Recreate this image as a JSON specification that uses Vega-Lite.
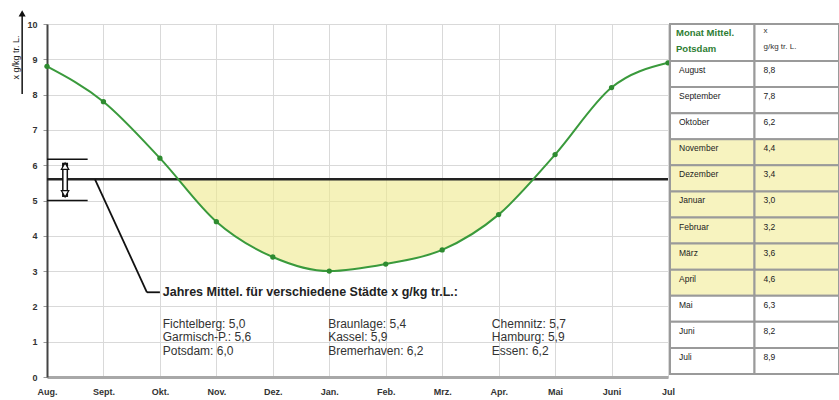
{
  "$schema": "https://vega.github.io/schema/vega-lite/v6.json",
  "padding": {"left": 10, "top": 9, "right": 0, "bottom": 0},
  "background": "white",
  "config": {"font": "Liberation Sans", "view": {"stroke": null}},
  "datasets": {
    "potsdam": [
      {"i": 0, "Monat": "Aug.", "x": 8.8},
      {"i": 1, "Monat": "Sept.", "x": 7.8},
      {"i": 2, "Monat": "Okt.", "x": 6.2},
      {"i": 3, "Monat": "Nov.", "x": 4.4},
      {"i": 4, "Monat": "Dez.", "x": 3.4},
      {"i": 5, "Monat": "Jan.", "x": 3.0},
      {"i": 6, "Monat": "Feb.", "x": 3.2},
      {"i": 7, "Monat": "Mrz.", "x": 3.6},
      {"i": 8, "Monat": "Apr.", "x": 4.6},
      {"i": 9, "Monat": "Mai", "x": 6.3},
      {"i": 10, "Monat": "Juni", "x": 8.2},
      {"i": 11, "Monat": "Jul", "x": 8.9}
    ],
    "shade": [
      {"i": 2.32, "x": 5.6},
      {"i": 3, "x": 4.4},
      {"i": 4, "x": 3.4},
      {"i": 5, "x": 3.0},
      {"i": 6, "x": 3.2},
      {"i": 7, "x": 3.6},
      {"i": 8, "x": 4.6},
      {"i": 8.62, "x": 5.6}
    ],
    "one": [{}],
    "header": [
      {"col": "A", "t": "Monat Mittel.\nPotsdam"},
      {"col": "B", "t": "x\ng/kg tr. L."}
    ],
    "table": [
      {"Monat": "August", "wert": "8,8", "hl": false},
      {"Monat": "September", "wert": "7,8", "hl": false},
      {"Monat": "Oktober", "wert": "6,2", "hl": false},
      {"Monat": "November", "wert": "4,4", "hl": true},
      {"Monat": "Dezember", "wert": "3,4", "hl": true},
      {"Monat": "Januar", "wert": "3,0", "hl": true},
      {"Monat": "Februar", "wert": "3,2", "hl": true},
      {"Monat": "März", "wert": "3,6", "hl": true},
      {"Monat": "April", "wert": "4,6", "hl": true},
      {"Monat": "Mai", "wert": "6,3", "hl": false},
      {"Monat": "Juni", "wert": "8,2", "hl": false},
      {"Monat": "Juli", "wert": "8,9", "hl": false}
    ]
  },
  "bounds": "flush",
  "spacing": 2,
  "hconcat": [
    {
      "width": 621,
      "height": 353,
      "view": {"stroke": "#c8c8c8"},
      "data": {"name": "one"},
      "resolve": {"axis": {"x": "independent", "y": "independent"}},
      "layer": [
        {
          "data": {"name": "shade"},
          "mark": {"type": "area", "interpolate": "monotone", "color": "#eeea8c", "opacity": 0.6},
          "encoding": {
            "x": {"field": "i", "type": "quantitative", "title": null,
              "scale": {"domain": [0, 11], "nice": false, "zero": false},
              "axis": {"values": [0,1,2,3,4,5,6,7,8,9,10,11],
                "labelExpr": "['Aug.','Sept.','Okt.','Nov.','Dez.','Jan.','Feb.','Mrz.','Apr.','Mai','Juni','Jul'][datum.value]",
                "labelFlush": false, "labelOverlap": false,
                "grid": true, "gridColor": "#d9d9d9", "domainColor": "#a8a8a8", "domainWidth": 3,
                "tickSize": 0, "labelPadding": 10, "labelFontSize": 9, "labelFontWeight": "bold", "labelColor": "#333"}},
            "y": {"field": "x", "type": "quantitative", "title": "x g/kg tr. L.",
              "scale": {"domain": [0, 10], "nice": false},
              "axis": {"values": [0,1,2,3,4,5,6,7,8,9,10], "labelOverlap": false, "labelFlush": false,
                "titleAngle": -90, "titleX": -32, "titleY": 33, "titleAlign": "center", "titleBaseline": "middle",
                "titleFontSize": 9, "titleFontWeight": "normal", "titleColor": "#222",
                "grid": true, "gridColor": "#d9d9d9", "domainColor": "#444", "domainWidth": 2,
                "tickSize": 4, "tickColor": "#999", "labelPadding": 6, "labelFontSize": 9,
                "labelFontWeight": "bold", "labelColor": "#333"}},
            "y2": {"datum": 5.6}
          }
        },
        {
          "mark": {"type": "rule", "color": "#222", "strokeWidth": 2.5},
          "encoding": {"y": {"datum": 5.6, "type": "quantitative", "axis": null}}
        },
        {
          "mark": {"type": "rule", "color": "#111", "strokeWidth": 1.5},
          "encoding": {"x": {"datum": 0, "type": "quantitative", "axis": null}, "x2": {"datum": 0.72}, "y": {"datum": 6.17, "type": "quantitative", "axis": null}}
        },
        {
          "mark": {"type": "rule", "color": "#111", "strokeWidth": 1.5},
          "encoding": {"x": {"datum": 0, "type": "quantitative", "axis": null}, "x2": {"datum": 0.72}, "y": {"datum": 5.0, "type": "quantitative", "axis": null}}
        },
        {
          "mark": {"type": "rule", "color": "#111", "strokeWidth": 6},
          "encoding": {"x": {"datum": 0.32, "type": "quantitative", "axis": null}, "y": {"datum": 5.1, "type": "quantitative", "axis": null}, "y2": {"datum": 6.07}}
        },
        {
          "mark": {"type": "rule", "color": "white", "strokeWidth": 3},
          "encoding": {"x": {"datum": 0.32, "type": "quantitative", "axis": null}, "y": {"datum": 5.2, "type": "quantitative", "axis": null}, "y2": {"datum": 5.97}}
        },
        {
          "mark": {"type": "point", "shape": "triangle-up", "filled": true, "fill": "white", "stroke": "#111", "strokeWidth": 1.2, "size": 55, "opacity": 1},
          "encoding": {"x": {"datum": 0.32, "type": "quantitative", "axis": null}, "y": {"datum": 5.97, "type": "quantitative", "axis": null}}
        },
        {
          "mark": {"type": "point", "shape": "triangle-down", "filled": true, "fill": "white", "stroke": "#111", "strokeWidth": 1.2, "size": 55, "opacity": 1},
          "encoding": {"x": {"datum": 0.32, "type": "quantitative", "axis": null}, "y": {"datum": 5.19, "type": "quantitative", "axis": null}}
        },
        {
          "mark": {"type": "rule", "color": "#111", "strokeWidth": 1.8},
          "encoding": {"x": {"datum": 0.85, "type": "quantitative", "axis": null}, "y": {"datum": 5.6, "type": "quantitative", "axis": null}, "x2": {"datum": 1.77}, "y2": {"datum": 2.4}}
        },
        {
          "mark": {"type": "rule", "color": "#111", "strokeWidth": 1.8},
          "encoding": {"x": {"datum": 1.77, "type": "quantitative", "axis": null}, "y": {"datum": 2.4, "type": "quantitative", "axis": null}, "x2": {"datum": 2.0}}
        },
        {
          "mark": {"type": "rule", "color": "#111", "strokeWidth": 1.5},
          "encoding": {"x": {"datum": -0.44, "type": "quantitative", "axis": null}, "y": {"datum": 8.02, "type": "quantitative", "axis": null}, "y2": {"datum": 10.25}}
        },
        {
          "mark": {"type": "point", "shape": "triangle-up", "filled": true, "color": "#111", "size": 50, "opacity": 1},
          "encoding": {"x": {"datum": -0.44, "type": "quantitative", "axis": null}, "y": {"datum": 10.3, "type": "quantitative", "axis": null}}
        },
        {
          "mark": {"type": "text", "text": "Jahres Mittel. für verschiedene Städte x g/kg tr.L.:", "align": "left", "baseline": "middle", "fontSize": 12.5, "fontWeight": "bold", "color": "#222"},
          "encoding": {"x": {"datum": 2.05, "type": "quantitative", "axis": null}, "y": {"datum": 2.4, "type": "quantitative", "axis": null}}
        },
        {
          "mark": {"type": "text", "text": "Fichtelberg: 5,0\nGarmisch-P.: 5,6\nPotsdam: 6,0", "lineBreak": "\n", "lineHeight": 13.5, "align": "left", "baseline": "top", "fontSize": 12, "color": "#333"},
          "encoding": {"x": {"datum": 2.05, "type": "quantitative", "axis": null}, "y": {"datum": 1.65, "type": "quantitative", "axis": null}}
        },
        {
          "mark": {"type": "text", "text": "Braunlage: 5,4\nKassel: 5,9\nBremerhaven: 6,2", "lineBreak": "\n", "lineHeight": 13.5, "align": "left", "baseline": "top", "fontSize": 12, "color": "#333"},
          "encoding": {"x": {"datum": 4.98, "type": "quantitative", "axis": null}, "y": {"datum": 1.65, "type": "quantitative", "axis": null}}
        },
        {
          "mark": {"type": "text", "text": "Chemnitz: 5,7\nHamburg: 5,9\nEssen: 6,2", "lineBreak": "\n", "lineHeight": 13.5, "align": "left", "baseline": "top", "fontSize": 12, "color": "#333"},
          "encoding": {"x": {"datum": 7.88, "type": "quantitative", "axis": null}, "y": {"datum": 1.65, "type": "quantitative", "axis": null}}
        },
        {
          "data": {"name": "potsdam"},
          "mark": {"type": "line", "interpolate": "monotone", "color": "#3a9a3c", "strokeWidth": 2},
          "encoding": {
            "x": {"field": "i", "type": "quantitative", "axis": null},
            "y": {"field": "x", "type": "quantitative", "axis": null}
          }
        },
        {
          "data": {"name": "potsdam"},
          "mark": {"type": "point", "filled": true, "color": "#2e8b30", "size": 28, "opacity": 1},
          "encoding": {
            "x": {"field": "i", "type": "quantitative", "axis": null},
            "y": {"field": "x", "type": "quantitative", "axis": null}
          }
        }
      ]
    },
    {
      "bounds": "flush",
      "spacing": 0,
      "vconcat": [
        {
          "width": 169,
          "height": 37,
          "data": {"name": "header"},
          "layer": [
            {
              "mark": {"type": "rect", "fill": "white", "stroke": "#9a9a9a", "strokeWidth": 2},
              "encoding": {"x": {"field": "col", "type": "nominal", "scale": {"paddingInner": 0, "paddingOuter": 0}, "axis": null}}
            },
            {
              "transform": [{"filter": "datum.col == 'A'"}],
              "mark": {"type": "text", "align": "left", "baseline": "middle", "dx": 6, "dy": -10, "lineBreak": "\n", "lineHeight": 16, "fontSize": 9.5, "fontWeight": "bold", "color": "#2e7d32"},
              "encoding": {"x": {"field": "col", "type": "nominal", "bandPosition": 0, "scale": {"paddingInner": 0, "paddingOuter": 0}, "axis": null}, "text": {"field": "t"}}
            },
            {
              "transform": [{"filter": "datum.col == 'B'"}],
              "mark": {"type": "text", "align": "left", "baseline": "middle", "dx": 9, "dy": -12, "lineBreak": "\n", "lineHeight": 16, "fontSize": 8, "color": "#333"},
              "encoding": {"x": {"field": "col", "type": "nominal", "bandPosition": 0, "scale": {"paddingInner": 0, "paddingOuter": 0}, "axis": null}, "text": {"field": "t"}}
            }
          ]
        },
        {
          "width": 169,
          "height": 313,
          "data": {"name": "table"},
          "transform": [{"fold": ["Monat", "wert"], "as": ["col", "t"]}],
          "layer": [
            {
              "mark": {"type": "rect", "stroke": "#9a9a9a", "strokeWidth": 2},
              "encoding": {
                "x": {"field": "col", "type": "nominal", "sort": ["Monat", "wert"], "scale": {"paddingInner": 0, "paddingOuter": 0}, "axis": null},
                "y": {"field": "Monat", "type": "nominal", "sort": null, "scale": {"paddingInner": 0, "paddingOuter": 0}, "axis": null},
                "fill": {"condition": {"test": "datum.hl", "value": "#f7f3bf"}, "value": "white"}
              }
            },
            {
              "mark": {"type": "text", "align": "left", "baseline": "middle", "dx": 9, "dy": -4, "fontSize": 8.5, "color": "#222"},
              "encoding": {
                "x": {"field": "col", "type": "nominal", "sort": ["Monat", "wert"], "bandPosition": 0, "scale": {"paddingInner": 0, "paddingOuter": 0}, "axis": null},
                "y": {"field": "Monat", "type": "nominal", "sort": null, "axis": null},
                "text": {"field": "t"}
              }
            }
          ]
        }
      ]
    }
  ]
}
